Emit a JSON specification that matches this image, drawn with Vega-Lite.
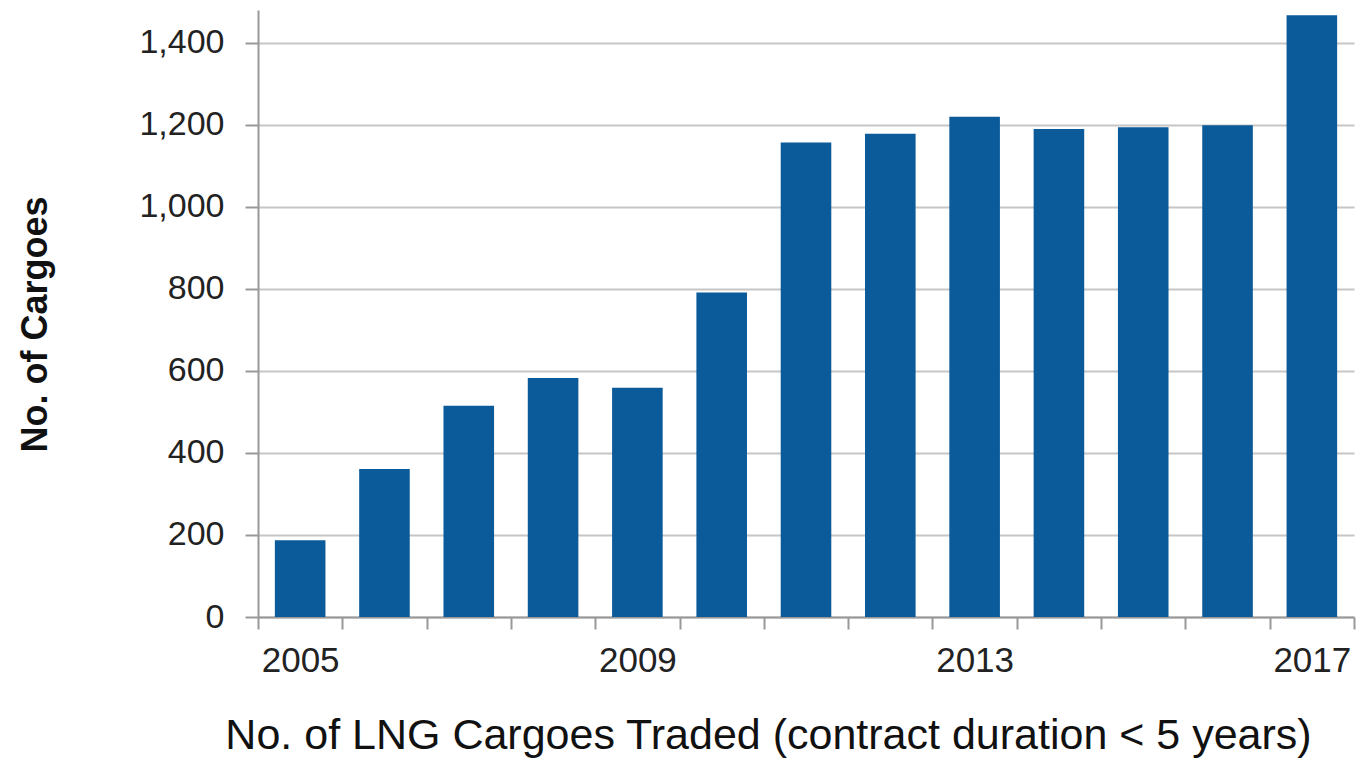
{
  "$schema": "https://vega.github.io/schema/vega-lite/v6.json",
  "autosize": {"type": "none"},
  "width": 1096,
  "height": 607,
  "padding": {"left": 258, "top": 10, "right": 7, "bottom": 145},
  "background": "white",
  "config": {"view": {"stroke": null}, "font": "Liberation Sans"},
  "data": {"values": [
    {"year": "2005", "cargoes": 187},
    {"year": "2006", "cargoes": 361},
    {"year": "2007", "cargoes": 515},
    {"year": "2008", "cargoes": 583},
    {"year": "2009", "cargoes": 559},
    {"year": "2010", "cargoes": 791},
    {"year": "2011", "cargoes": 1157},
    {"year": "2012", "cargoes": 1178},
    {"year": "2013", "cargoes": 1220},
    {"year": "2014", "cargoes": 1190},
    {"year": "2015", "cargoes": 1194},
    {"year": "2016", "cargoes": 1199},
    {"year": "2017", "cargoes": 1467}
  ]},
  "mark": {"type": "bar", "color": "#0b5a99", "width": {"band": 0.6}},
  "encoding": {
    "x": {
      "field": "year", "type": "ordinal",
      "scale": {"paddingInner": 0, "paddingOuter": 0},
      "axis": {
        "title": "No. of  LNG Cargoes Traded (contract duration < 5 years)",
        "titleFont": "Liberation Sans", "titleFontSize": 43, "titleFontWeight": "normal", "titleColor": "#111",
        "titleX": 510, "titleY": 131, "titleBaseline": "alphabetic", "titleAlign": "center", "titleAnchor": null,
        "labelAngle": 0, "labelFontSize": 35, "labelColor": "#222", "labelPadding": 14,
        "labelExpr": "indexof(['2005','2009','2013','2017'], datum.value) >= 0 ? datum.value : ''",
        "tickBand": "extent", "tickSize": 12, "tickColor": "#999", "tickWidth": 2,
        "domainColor": "#999", "domainWidth": 2, "grid": false
      }
    },
    "y": {
      "field": "cargoes", "type": "quantitative",
      "scale": {"domain": [0, 1480], "nice": false},
      "axis": {
        "title": "No. of Cargoes",
        "titleFont": "Liberation Sans", "titleFontSize": 36, "titleFontWeight": "bold", "titleColor": "#111",
        "titleX": -223, "titleY": 314, "titleAngle": -90, "titleBaseline": "middle", "titleAlign": "center", "titleAnchor": null,
        "values": [0, 200, 400, 600, 800, 1000, 1200, 1400],
        "format": ",d",
        "labelFontSize": 34, "labelColor": "#222", "labelPadding": 21,
        "tickSize": 13, "tickColor": "#999", "tickWidth": 2,
        "domainColor": "#999", "domainWidth": 2,
        "grid": true, "gridColor": "#c6c6c6", "gridWidth": 2
      }
    }
  }
}
